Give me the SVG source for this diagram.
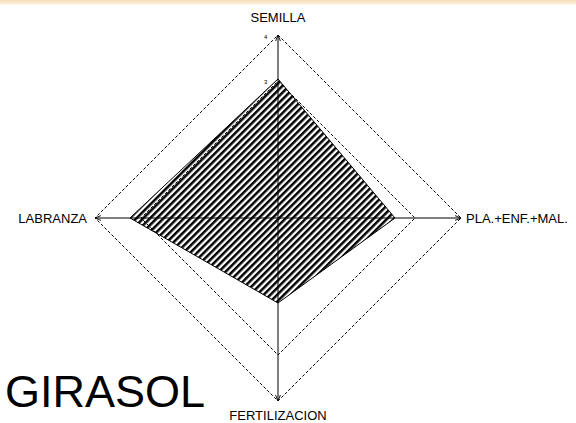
<svg xmlns="http://www.w3.org/2000/svg" width="576" height="423" viewBox="0 0 576 423">
<defs>
<linearGradient id="band" x1="0" y1="0" x2="0" y2="1">
<stop offset="0" stop-color="#f6dcb0"/>
<stop offset="1" stop-color="#fdf6ea"/>
</linearGradient>
<pattern id="hatch" patternUnits="userSpaceOnUse" width="4.8" height="4.8" patternTransform="rotate(45)">
<rect x="0" y="0" width="2.5" height="4.8" fill="#000"/>
</pattern>
<marker id="arr" viewBox="0 0 10 10" refX="10" refY="5" markerWidth="6" markerHeight="6" orient="auto" markerUnits="userSpaceOnUse">
<path d="M0,1 L10,5 L0,9" fill="none" stroke="#000" stroke-width="1.5"/>
</marker>
</defs>
<style>
.lbl{font-family:"Liberation Sans",Arial,sans-serif;font-size:13px;fill:#000}
.tick{font-family:"Liberation Sans",Arial,sans-serif;font-size:6px;fill:#000}
.dash{fill:none;stroke:#000;stroke-width:1;stroke-dasharray:3,2}
.axis{stroke:#000;stroke-width:1;fill:none}
</style>
<rect x="0" y="0" width="576" height="423" fill="#fff"/>
<rect x="0" y="0" width="576" height="5" fill="url(#band)"/>
<text x="205" y="407" text-anchor="end" font-family="'Liberation Sans',Arial,sans-serif" font-size="45">GIRASOL</text>
<g id="grid">
<polygon class="dash" points="278,35 461,218 278,401 95,218"/>
<polygon class="dash" points="278,81 415,218 278,355 141,218"/>
</g>
<g id="data">
<polygon points="278,79 395,218 278,303 130,218" fill="url(#hatch)" stroke="#000" stroke-width="1"/>
</g>
<g id="connectors">
<line class="axis" x1="278" y1="218" x2="278" y2="35" marker-end="url(#arr)"/>
<line class="axis" x1="278" y1="218" x2="461" y2="218" marker-end="url(#arr)"/>
<line class="axis" x1="278" y1="218" x2="278" y2="401" marker-end="url(#arr)"/>
<line class="axis" x1="278" y1="218" x2="95" y2="218" marker-end="url(#arr)"/>
</g>
<g id="n-semilla"><text class="lbl" x="278" y="22" text-anchor="middle">SEMILLA</text></g>
<g id="n-pla"><text class="lbl" x="466" y="223">PLA.+ENF.+MAL.</text></g>
<g id="n-fert"><text class="lbl" x="278" y="420" text-anchor="middle">FERTILIZACION</text></g>
<g id="n-labranza"><text class="lbl" x="87" y="223" text-anchor="end">LABRANZA</text></g>
<g id="ticks">
<text class="tick" x="264" y="39">4</text>
<text class="tick" x="264" y="84">3</text>
</g>
</svg>
